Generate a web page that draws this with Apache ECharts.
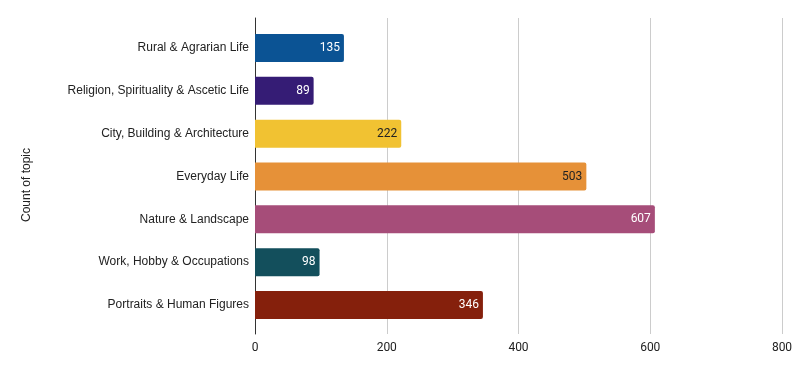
<!DOCTYPE html>
<html>
<head>
<meta charset="utf-8">
<script src="https://cdn.jsdelivr.net/npm/echarts@6/dist/echarts.min.js"></script>
<style>
  html, body { margin: 0; padding: 0; background: #fff; }
  #main { width: 801px; height: 371px; }
</style>
</head>
<body>
<div id="main"></div>
<script>
// data
const topics = [
  'Rural & Agrarian Life',
  'Religion, Spirituality & Ascetic Life',
  'City, Building & Architecture',
  'Everyday Life',
  'Nature & Landscape',
  'Work, Hobby & Occupations',
  'Portraits & Human Figures'
];
const counts = [135, 89, 222, 503, 607, 98, 346];
const barColors = ['#0b5394', '#351c75', '#f1c232', '#e69138', '#a64d79', '#134f5c', '#85200c'];
const labelColors = ['#fff', '#fff', '#222', '#222', '#fff', '#fff', '#fff'];
const xTicks = [0, 200, 400, 600, 800];

const chart = echarts.init(document.getElementById('main'));

const option = {
  backgroundColor: '#fff',
  animation: false,
  // grid 0 carries the frame + gridlines, grid 1 the bars (padded inside)
  grid: [
    { left: 255, right: 19, top: 18, bottom: 37 },
    { left: 255, right: 19, top: 26.6, bottom: 44.6 }
  ],
  xAxis: [{
    gridIndex: 0,
    type: 'value',
    min: xTicks[0],
    max: xTicks[xTicks.length - 1],
    interval: 200,
    axisLine: { show: false },
    axisTick: { show: false },
    axisLabel: { color: '#222', fontFamily: 'Roboto', fontSize: 12, margin: 8 },
    splitLine: { show: true, lineStyle: { color: '#cccccc', width: 1 } }
  }, {
    gridIndex: 1,
    type: 'value',
    min: xTicks[0],
    max: xTicks[xTicks.length - 1],
    show: false
  }],
  yAxis: [{
    gridIndex: 0,
    type: 'value',
    min: 0,
    max: 1,
    axisLine: { show: true, lineStyle: { color: '#333', width: 1 } },
    axisTick: { show: false },
    axisLabel: { show: false },
    splitLine: { show: false }
  }, {
    gridIndex: 1,
    type: 'category',
    inverse: true,
    data: topics,
    axisLine: { show: false },
    axisTick: { show: false },
    axisLabel: { color: '#222', fontFamily: 'Liberation Sans', fontSize: 12, margin: 6 }
  }],
  graphic: [{
    type: 'text',
    x: 21,
    y: 185,
    rotation: Math.PI / 2,
    style: {
      text: 'Count of topic',
      fill: '#222',
      font: '12px "Liberation Sans"',
      align: 'center',
      verticalAlign: 'top'
    }
  }],
  series: [{
    type: 'bar',
    xAxisIndex: 1,
    yAxisIndex: 1,
    barWidth: 28,
    data: counts.map((v, i) => ({
      value: v,
      itemStyle: { color: barColors[i], borderRadius: [0, 2, 2, 0] },
      label: { color: labelColors[i] }
    })),
    label: {
      show: true,
      position: 'insideRight',
      distance: 4,
      fontFamily: 'Roboto',
      fontSize: 12
    }
  }]
};

chart.setOption(option);
window.onresize = chart.resize;
</script>
</body>
</html>
